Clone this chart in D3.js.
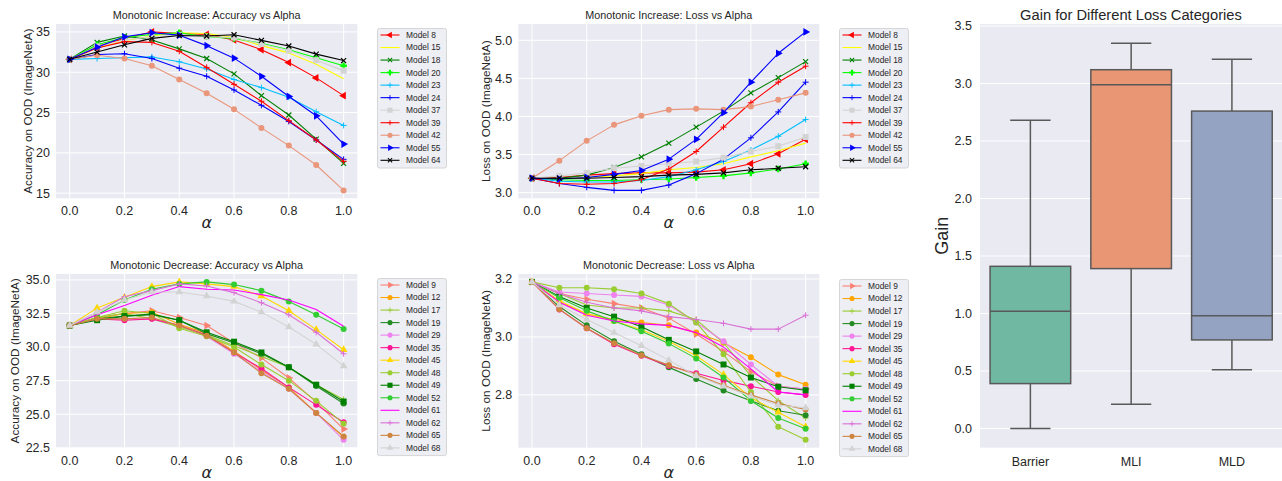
<!DOCTYPE html>
<html>
<head>
<meta charset="utf-8">
<script src="https://cdn.jsdelivr.net/npm/d3@7"></script>
<style>
  body { margin: 0; background: #ffffff; }
  svg text { font-family: "Liberation Sans", Arial, Helvetica, sans-serif; fill: #262626; }
</style>
</head>
<body>
<svg id="fig" width="1282" height="481"></svg>
<script>
// ---------- data ----------
const alphaValues = [0, 0.1, 0.2, 0.3, 0.4, 0.5, 0.6, 0.7, 0.8, 0.9, 1.0];

const increaseModels = ["Model 8", "Model 15", "Model 18", "Model 20", "Model 23", "Model 24",
                        "Model 37", "Model 39", "Model 42", "Model 55", "Model 64"];

const increaseAccuracy = [
  [31.6, 33.2, 34.2, 35.0, 34.8, 34.7, 34.0, 32.8, 31.2, 29.3, 27.1],
  [31.6, 33.0, 33.9, 34.5, 34.9, 34.8, 34.3, 33.3, 32.4, 31.0, 29.2],
  [31.6, 33.7, 34.5, 34.0, 32.9, 31.7, 29.8, 27.1, 24.7, 21.7, 18.7],
  [31.6, 33.4, 34.3, 34.7, 34.9, 34.4, 34.2, 33.6, 32.8, 31.8, 30.8],
  [31.6, 31.7, 31.8, 31.9, 31.3, 30.4, 29.1, 28.1, 26.9, 25.1, 23.4],
  [31.6, 32.2, 32.3, 31.7, 30.5, 29.5, 27.8, 25.9, 23.9, 21.6, 19.2],
  [31.6, 33.2, 34.0, 34.4, 34.6, 34.4, 34.3, 33.5, 32.7, 31.5, 30.2],
  [31.6, 33.0, 33.8, 33.7, 32.6, 30.6, 28.5, 26.4, 24.0, 21.6, 18.95],
  [31.6, 32.1, 31.7, 30.8, 29.1, 27.4, 25.4, 23.1, 20.9, 18.5, 15.35],
  [31.6, 33.1, 34.4, 34.9, 34.6, 33.3, 31.75, 29.5, 27.0, 24.6, 21.1],
  [31.6, 32.5, 33.4, 34.2, 34.55, 34.5, 34.65, 33.95, 33.25, 32.25, 31.45]
];

const increaseLoss = [
  [3.19, 3.20, 3.23, 3.25, 3.26, 3.26, 3.27, 3.30, 3.38, 3.51, 3.70],
  [3.19, 3.18, 3.20, 3.22, 3.25, 3.30, 3.33, 3.38, 3.47, 3.55, 3.65],
  [3.19, 3.19, 3.23, 3.33, 3.47, 3.65, 3.86, 4.07, 4.31, 4.51, 4.72],
  [3.19, 3.17, 3.16, 3.16, 3.17, 3.18, 3.20, 3.22, 3.26, 3.31, 3.38],
  [3.19, 3.15, 3.14, 3.14, 3.16, 3.21, 3.30, 3.41, 3.56, 3.74, 3.96],
  [3.19, 3.12, 3.07, 3.03, 3.03, 3.10, 3.25, 3.44, 3.72, 4.06, 4.45],
  [3.19, 3.22, 3.26, 3.32, 3.35, 3.38, 3.41, 3.46, 3.54, 3.61, 3.73],
  [3.19, 3.12, 3.11, 3.12, 3.17, 3.31, 3.54, 3.86, 4.18, 4.45, 4.66],
  [3.19, 3.42, 3.68, 3.89, 4.01, 4.09, 4.10, 4.09, 4.13, 4.22, 4.31],
  [3.19, 3.18, 3.20, 3.24, 3.29, 3.44, 3.70, 4.05, 4.45, 4.83, 5.11],
  [3.19, 3.19, 3.19, 3.20, 3.21, 3.23, 3.24, 3.26, 3.30, 3.32, 3.34]
];

const decreaseModels = ["Model 9", "Model 12", "Model 17", "Model 19", "Model 29", "Model 35", "Model 45",
                        "Model 48", "Model 49", "Model 52", "Model 61", "Model 62", "Model 65", "Model 68"];

const decreaseAccuracy = [
  [31.6, 32.2, 32.5, 32.7, 32.2, 31.6, 30.3, 29.2, 27.7, 25.9, 23.9],
  [31.6, 32.1, 32.5, 32.6, 31.7, 31.0, 29.7, 28.3, 27.0, 25.1, 23.3],
  [31.6, 32.2, 32.5, 32.1, 31.5, 30.9, 30.1, 29.3, 28.5, 27.2, 26.1],
  [31.6, 32.1, 32.3, 32.4, 32.0, 31.0, 30.3, 29.5, 28.5, 27.1, 25.8],
  [31.6, 32.1, 32.1, 32.1, 31.6, 30.8, 29.5, 28.2, 26.9, 25.1, 23.1],
  [31.6, 32.1, 32.0, 32.1, 31.6, 30.9, 29.6, 28.4, 27.0, 25.7, 24.4],
  [31.6, 32.9, 33.7, 34.5, 34.85, 34.7, 34.5, 33.8, 32.7, 31.3, 29.8],
  [31.6, 32.2, 32.7, 32.5, 31.4, 30.8, 30.0, 28.7, 27.5, 26.0, 24.3],
  [31.6, 32.0, 32.3, 32.45, 32.0, 31.1, 30.4, 29.6, 28.5, 27.2, 25.95],
  [31.6, 32.4, 33.5, 34.3, 34.7, 34.85, 34.65, 34.2, 33.4, 32.4, 31.35],
  [31.6, 32.4, 33.1, 33.85, 34.5, 34.3, 34.25, 33.9, 33.5, 32.8, 31.55],
  [31.6, 32.6, 33.75, 34.2, 34.7, 34.55, 34.05, 33.3, 32.4, 31.1, 29.5],
  [31.6, 32.1, 32.1, 32.2, 31.6, 30.85, 29.6, 28.05, 26.9, 25.1, 23.35],
  [31.6, 32.6, 33.5, 34.1, 34.1, 33.8, 33.4, 32.6, 31.5, 30.2, 28.6]
];

const decreaseLoss = [
  [3.19, 3.15, 3.13, 3.115, 3.10, 3.065, 3.01, 2.95, 2.88, 2.83, 2.82],
  [3.19, 3.12, 3.08, 3.06, 3.05, 3.04, 3.015, 2.98, 2.93, 2.87, 2.835],
  [3.19, 3.15, 3.11, 3.10, 3.10, 3.09, 3.06, 2.98, 2.865, 2.78, 2.72],
  [3.19, 3.105, 3.04, 2.985, 2.94, 2.895, 2.855, 2.815, 2.78, 2.745, 2.73],
  [3.19, 3.155, 3.15, 3.145, 3.14, 3.11, 3.05, 2.985, 2.905, 2.83, 2.82],
  [3.19, 3.095, 3.03, 2.975, 2.935, 2.90, 2.875, 2.85, 2.83, 2.81, 2.80],
  [3.19, 3.125, 3.08, 3.055, 3.025, 2.985, 2.935, 2.87, 2.79, 2.74, 2.69],
  [3.19, 3.17, 3.17, 3.165, 3.15, 3.115, 3.05, 2.94, 2.81, 2.69, 2.645],
  [3.19, 3.14, 3.10, 3.07, 3.035, 2.99, 2.95, 2.905, 2.86, 2.828, 2.816],
  [3.19, 3.135, 3.09, 3.055, 3.02, 2.977, 2.926, 2.86, 2.78, 2.72, 2.683],
  [3.19, 3.12, 3.075, 3.055, 3.045, 3.04, 3.015, 2.965, 2.89, 2.81, 2.80],
  [3.19, 3.15, 3.12, 3.10, 3.09, 3.07, 3.06, 3.047, 3.027, 3.027, 3.075],
  [3.19, 3.096, 3.03, 2.978, 2.937, 2.903, 2.87, 2.833, 2.80, 2.77, 2.75],
  [3.19, 3.11, 3.06, 3.015, 2.97, 2.92, 2.865, 2.83, 2.795, 2.765, 2.755]
];

const alphaTicks = [0, 0.2, 0.4, 0.6, 0.8, 1.0];
const incAccTicks = [15, 20, 25, 30, 35];
const incLossTicks = [3.0, 3.5, 4.0, 4.5, 5.0];
const decAccTicks = [22.5, 25.0, 27.5, 30.0, 32.5, 35.0];
const decLossTicks = [2.8, 3.0, 3.2];

// box plot summary per loss category
const gainCategories = ["Barrier", "MLI", "MLD"];
const gainWhiskerLow = [0.0, 0.21, 0.51];
const gainQ1 = [0.39, 1.39, 0.77];
const gainMedian = [1.02, 2.99, 0.98];
const gainQ3 = [1.41, 3.12, 2.76];
const gainWhiskerHigh = [2.68, 3.35, 3.21];
const gainTicks = [0.0, 0.5, 1.0, 1.5, 2.0, 2.5, 3.0, 3.5];

// ---------- styles ----------
const increaseStyles = [
  { color: "red", marker: "<" },
  { color: "yellow", marker: "none" },
  { color: "green", marker: "x" },
  { color: "lime", marker: "P" },
  { color: "deepskyblue", marker: "+" },
  { color: "blue", marker: "+" },
  { color: "lightgray", marker: "s" },
  { color: "red", marker: "+" },
  { color: "darksalmon", marker: "o" },
  { color: "blue", marker: ">" },
  { color: "black", marker: "x" }
];
const decreaseStyles = [
  { color: "salmon", marker: ">" },
  { color: "orange", marker: "o" },
  { color: "yellowgreen", marker: "+" },
  { color: "forestgreen", marker: "o" },
  { color: "violet", marker: "o" },
  { color: "deeppink", marker: "o" },
  { color: "gold", marker: "^" },
  { color: "yellowgreen", marker: "o" },
  { color: "green", marker: "s" },
  { color: "limegreen", marker: "o" },
  { color: "magenta", marker: "none" },
  { color: "orchid", marker: "+" },
  { color: "peru", marker: "o" },
  { color: "lightgray", marker: "^" }
];
const boxColors = ["#70b8a1", "#e99675", "#95a3c3"];
const AX_BG = "#eaeaf2";
const BOX_LINE = "#595959";

const svg = d3.select("#fig");

// ---------- markers ----------
function drawMarker(g, type, x, y, color, s = 1) {
  const t = `translate(${x},${y}) scale(${s})`;
  switch (type) {
    case "o":
      g.append("circle").attr("cx", x).attr("cy", y).attr("r", 3.0 * s).attr("fill", color);
      break;
    case "s":
      g.append("path").attr("d", "M-3,-3H3V3H-3Z").attr("transform", t).attr("fill", color);
      break;
    case "^":
    case "<":
    case ">": {
      const rot = type === "^" ? 0 : (type === "<" ? -90 : 90);
      g.append("path").attr("d", d3.symbol(d3.symbolTriangle, 26)())
        .attr("transform", `${t} rotate(${rot})`).attr("fill", color);
      break;
    }
    case "x":
      g.append("path").attr("d", "M-2.5,-2.5L2.5,2.5M-2.5,2.5L2.5,-2.5")
        .attr("transform", t).attr("stroke", color).attr("stroke-width", 1.2).attr("fill", "none");
      break;
    case "+":
      g.append("path").attr("d", "M-3,0L3,0M0,-3L0,3")
        .attr("transform", t).attr("stroke", color).attr("stroke-width", 1).attr("fill", "none");
      break;
    case "P":
      g.append("path").attr("d", "M-1.2,-3.3H1.2V-1.2H3.3V1.2H1.2V3.3H-1.2V1.2H-3.3V-1.2H-1.2Z")
        .attr("transform", t).attr("fill", color);
      break;
    default:
      break;
  }
}

// ---------- legend ----------
function drawLegend(box, models, styles) {
  const g = svg.append("g");
  const rowH = 12.53;
  const h = 14.2 + rowH * (models.length - 1);
  g.append("rect").attr("x", box.x + 0.5).attr("y", box.y + 0.5).attr("width", 69).attr("height", h)
    .attr("rx", 2).attr("fill", "#eeeef5").attr("stroke", "#d6d6d6").attr("stroke-width", 1);
  models.forEach((m, i) => {
    const cy = box.y + 7 + rowH * i;
    g.append("line").attr("x1", box.x + 3.5).attr("x2", box.x + 22.5).attr("y1", cy).attr("y2", cy)
      .attr("stroke", styles[i].color).attr("stroke-width", 1.1);
    drawMarker(g, styles[i].marker, box.x + 13, cy, styles[i].color, 0.85);
    g.append("text").attr("x", box.x + 29).attr("y", cy).attr("dy", "0.35em")
      .attr("font-size", 8.4).text(m);
  });
}

// ---------- line panel ----------
function linePanel(p) {
  const g = svg.append("g");
  const all = p.values.flat();
  const [mn, mx] = d3.extent(all);
  const pad = (mx - mn) * 0.05;
  const x = d3.scaleLinear().domain([-0.05, 1.05]).range([p.left, p.right]);
  const y = d3.scaleLinear().domain([mn - pad, mx + pad]).range([p.bottom, p.top]);

  g.append("rect").attr("x", p.left).attr("y", p.top).attr("width", p.right - p.left)
    .attr("height", p.bottom - p.top).attr("fill", AX_BG);

  // grid
  g.selectAll(".gx").data(alphaTicks).join("line")
    .attr("x1", d => x(d)).attr("x2", d => x(d)).attr("y1", p.top).attr("y2", p.bottom)
    .attr("stroke", "#fff").attr("stroke-width", 1);
  g.selectAll(".gy").data(p.yTicks).join("line")
    .attr("class", "gy")
    .attr("x1", p.left).attr("x2", p.right).attr("y1", d => y(d)).attr("y2", d => y(d))
    .attr("stroke", "#fff").attr("stroke-width", 1);

  // tick labels
  g.selectAll(".tx").data(alphaTicks).join("text")
    .attr("x", d => x(d)).attr("y", p.bottom + 17).attr("text-anchor", "middle")
    .attr("font-size", 12.5).text(d => d3.format(".1f")(d));
  g.selectAll(".ty").data(p.yTicks).join("text")
    .attr("x", p.left - 6).attr("y", d => y(d)).attr("dy", "0.35em").attr("text-anchor", "end")
    .attr("font-size", 12.5).text(d => d3.format(p.yFmt)(d));

  // titles
  g.append("text").attr("x", (p.left + p.right) / 2).attr("y", p.top - 5).attr("text-anchor", "middle")
    .attr("font-size", 10.8).text(p.title);
  g.append("text").attr("transform", `translate(${p.ylabelX},${(p.top + p.bottom) / 2}) rotate(-90)`)
    .attr("text-anchor", "middle").attr("dy", "0.35em").attr("font-size", 11.8).text(p.ylabel);
  g.append("text").attr("x", (p.left + p.right) / 2).attr("y", p.bottom + 30).attr("text-anchor", "middle")
    .attr("font-size", 16).attr("font-style", "italic")
    .style("font-family", "'DejaVu Sans', sans-serif").text("α");

  // series
  const line = d3.line().x((d, i) => x(alphaValues[i])).y(d => y(d));
  p.values.forEach((vals, k) => {
    const st = p.styles[k];
    const sg = g.append("g");
    sg.append("path").attr("d", line(vals)).attr("fill", "none")
      .attr("stroke", st.color).attr("stroke-width", 1.1).attr("stroke-linejoin", "round");
    vals.forEach((v, i) => drawMarker(sg, st.marker, x(alphaValues[i]), y(v), st.color));
  });

  drawLegend(p.legend, p.models, p.styles);
}

linePanel({
  left: 56, right: 357.3, top: 24, bottom: 198.3, ylabelX: 27.5,
  title: "Monotonic Increase: Accuracy vs Alpha", ylabel: "Accuracy on OOD (ImageNetA)",
  values: increaseAccuracy, models: increaseModels, styles: increaseStyles,
  yTicks: incAccTicks, yFmt: "d", legend: { x: 377, y: 28 }
});
linePanel({
  left: 518.3, right: 819.3, top: 24, bottom: 198.3, ylabelX: 486,
  title: "Monotonic Increase: Loss vs Alpha", ylabel: "Loss on OOD (ImageNetA)",
  values: increaseLoss, models: increaseModels, styles: increaseStyles,
  yTicks: incLossTicks, yFmt: ".1f", legend: { x: 839, y: 28 }
});
linePanel({
  left: 56, right: 357.3, top: 274, bottom: 447.7, ylabelX: 14.5,
  title: "Monotonic Decrease: Accuracy vs Alpha", ylabel: "Accuracy on OOD (ImageNetA)",
  values: decreaseAccuracy, models: decreaseModels, styles: decreaseStyles,
  yTicks: decAccTicks, yFmt: ".1f", legend: { x: 377, y: 278 }
});
linePanel({
  left: 518.3, right: 819.3, top: 274, bottom: 447.7, ylabelX: 485.5,
  title: "Monotonic Decrease: Loss vs Alpha", ylabel: "Loss on OOD (ImageNetA)",
  values: decreaseLoss, models: decreaseModels, styles: decreaseStyles,
  yTicks: decLossTicks, yFmt: ".1f", legend: { x: 839, y: 279 }
});

// ---------- gain box plot ----------
(function boxPanel() {
  const left = 980, right = 1282, top = 24, bottom = 447.7;
  const g = svg.append("g");
  const lo = d3.min(gainWhiskerLow), hi = d3.max(gainWhiskerHigh);
  const pad = (hi - lo) * 0.05;
  const y = d3.scaleLinear().domain([lo - pad, hi + pad]).range([bottom, top]);
  const x = d3.scaleBand().domain(gainCategories).range([left, right + 0.3]);

  g.append("rect").attr("x", left).attr("y", top).attr("width", right - left).attr("height", bottom - top)
    .attr("fill", AX_BG);
  g.selectAll(".gy").data(gainTicks).join("line")
    .attr("x1", left).attr("x2", right).attr("y1", d => y(d)).attr("y2", d => y(d))
    .attr("stroke", "#fff").attr("stroke-width", 1);
  g.selectAll(".ty").data(gainTicks).join("text")
    .attr("x", left - 8).attr("y", d => y(d)).attr("dy", "0.35em").attr("text-anchor", "end")
    .attr("font-size", 12.5).text(d => d3.format(".1f")(d));
  g.selectAll(".tx").data(gainCategories).join("text")
    .attr("x", d => x(d) + x.bandwidth() / 2).attr("y", bottom + 18).attr("text-anchor", "middle")
    .attr("font-size", 12.5).text(d => d);

  g.append("text").attr("x", (left + right) / 2).attr("y", 19.5).attr("text-anchor", "middle")
    .attr("font-size", 14.7).text("Gain for Different Loss Categories");
  g.append("text").attr("transform", `translate(942,${(top + bottom) / 2}) rotate(-90)`)
    .attr("text-anchor", "middle").attr("dy", "0.35em").attr("font-size", 18).text("Gain");

  gainCategories.forEach((c, i) => {
    const cx = x(c) + x.bandwidth() / 2;
    const bw = x.bandwidth() * 0.8;
    const cap = bw / 2;
    const bg = g.append("g").attr("stroke", BOX_LINE).attr("stroke-width", 1.5);
    bg.append("line").attr("x1", cx).attr("x2", cx).attr("y1", y(gainQ3[i])).attr("y2", y(gainWhiskerHigh[i]));
    bg.append("line").attr("x1", cx).attr("x2", cx).attr("y1", y(gainQ1[i])).attr("y2", y(gainWhiskerLow[i]));
    bg.append("line").attr("x1", cx - cap / 2).attr("x2", cx + cap / 2)
      .attr("y1", y(gainWhiskerHigh[i])).attr("y2", y(gainWhiskerHigh[i]));
    bg.append("line").attr("x1", cx - cap / 2).attr("x2", cx + cap / 2)
      .attr("y1", y(gainWhiskerLow[i])).attr("y2", y(gainWhiskerLow[i]));
    bg.append("rect").attr("x", cx - bw / 2).attr("y", y(gainQ3[i])).attr("width", bw)
      .attr("height", y(gainQ1[i]) - y(gainQ3[i])).attr("fill", boxColors[i]);
    bg.append("line").attr("x1", cx - bw / 2).attr("x2", cx + bw / 2)
      .attr("y1", y(gainMedian[i])).attr("y2", y(gainMedian[i]));
  });
})();
</script>
</body>
</html>
